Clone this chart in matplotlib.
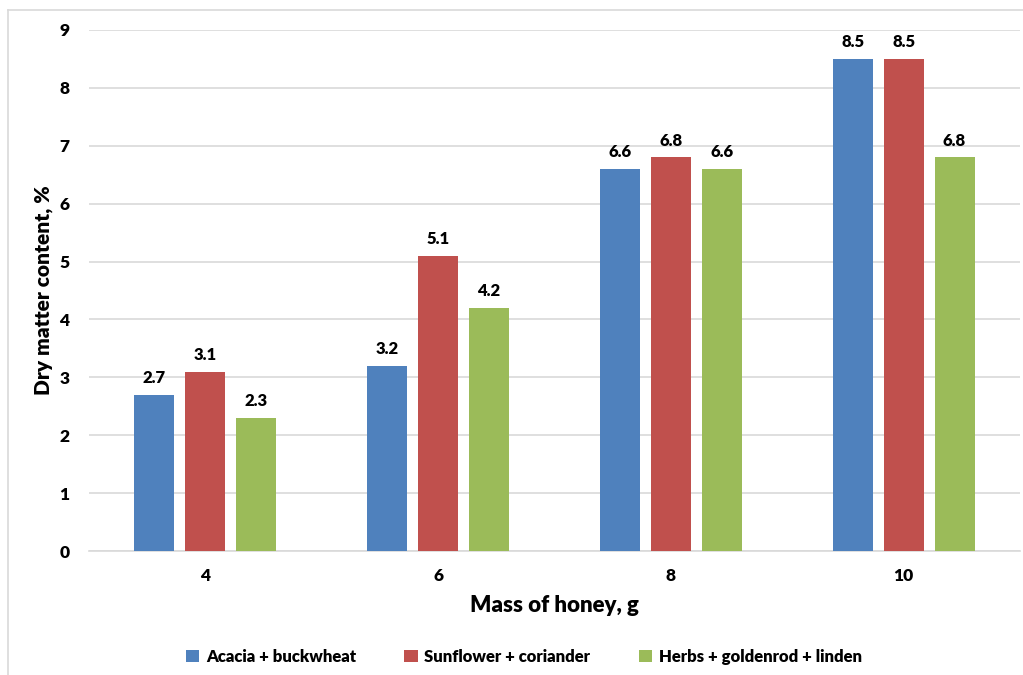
import matplotlib.pyplot as plt
import numpy as np
from matplotlib.lines import Line2D

plt.rcParams['font.family'] = ['Lato', 'DejaVu Sans']
plt.rcParams['font.weight'] = 'heavy'

masses = ["4", "6", "8", "10"]
acacia = [2.7, 3.2, 6.6, 8.5]
sunflower = [3.1, 5.1, 6.8, 8.5]
herbs = [2.3, 4.2, 6.6, 6.8]
series_names = ["Acacia + buckwheat", "Sunflower + coriander", "Herbs + goldenrod + linden"]
colors = ["#4F81BD", "#C0504D", "#9BBB59"]

fig = plt.figure(figsize=(10.23, 6.75), dpi=100)
ax = fig.add_axes([0.087, 0.1837, 0.91, 0.772])

x = np.arange(len(masses))
width = 0.172
offset = 0.219
for i, (vals, name, c) in enumerate(zip([acacia, sunflower, herbs], series_names, colors)):
    bars = ax.bar(x + (i - 1) * offset, vals, width, color=c, label=name, zorder=3)
    for b, v in zip(bars, vals):
        ax.text(b.get_x() + b.get_width() / 2, v + 0.15, f"{v:.1f}",
                ha='center', va='bottom', fontsize=12, fontweight='heavy')

ax.set_xlim(-0.5, 3.5)
ax.set_ylim(0, 9)
ax.set_yticks(range(10))
ax.set_xticks(x)
ax.set_xticklabels(masses)
ax.yaxis.grid(True, color='#D9D9D9', linewidth=1.2, zorder=0)
for s in ['top', 'right', 'left']:
    ax.spines[s].set_visible(False)
ax.spines['bottom'].set_color('#D9D9D9')
ax.spines['bottom'].set_linewidth(1.2)
ax.tick_params(length=0, labelsize=12.5, pad=12)
for lab in ax.get_xticklabels() + ax.get_yticklabels():
    lab.set_fontweight('heavy')
ax.tick_params(axis='y', pad=14)
ax.set_xlabel("Mass of honey, g", fontsize=16, fontweight='heavy', labelpad=8)
ax.set_ylabel("Dry matter content, %", fontsize=15, fontweight='heavy')
ax.yaxis.set_label_coords(-0.039, 0.5)

fig.legend(loc='center', bbox_to_anchor=(0.512, 0.027), ncol=3, frameon=False,
           handlelength=0.8, handleheight=0.8, columnspacing=2.9,
           handletextpad=0.4, prop={'weight': 'heavy', 'size': 12})

# outer chart frame
fig.add_artist(Line2D([8 / 1023, 8 / 1023], [0, 1 - 10 / 675], color='#D9D9D9', lw=1.2, transform=fig.transFigure))
fig.add_artist(Line2D([8 / 1023, 1], [1 - 10 / 675, 1 - 10 / 675], color='#D9D9D9', lw=1.2, transform=fig.transFigure))

fig.savefig("out.png", dpi=100)
